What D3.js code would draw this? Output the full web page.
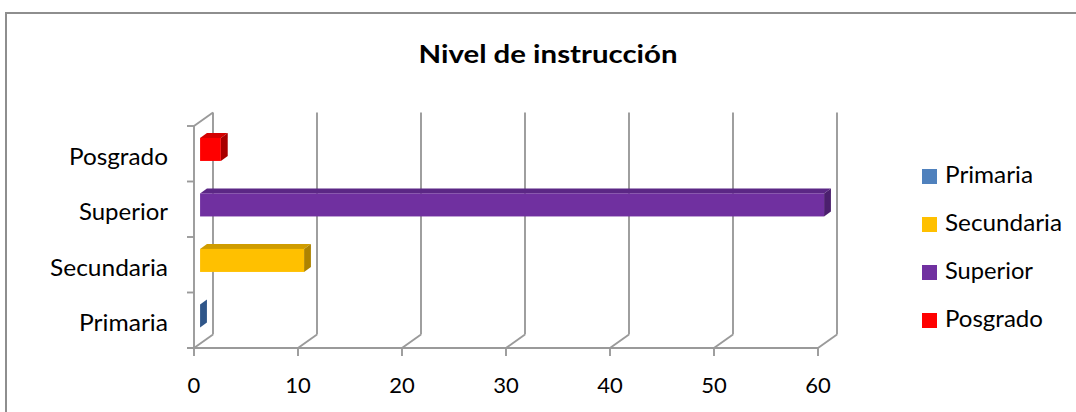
<!DOCTYPE html>
<html><head><meta charset="utf-8">
<script src="https://cdn.jsdelivr.net/npm/d3@7"></script>
<style>body{margin:0;background:#fff}svg{display:block}text{font-family:Lato,"Open Sans",sans-serif;fill:#000}</style>
</head><body>
<svg id="c" width="1076" height="412"></svg>
<script>
const title = "Nivel de instrucción";
const categories = ["Primaria","Secundaria","Superior","Posgrado"];
const values = [0, 10, 60, 2];
const xTicks = [0,10,20,30,40,50,60];
const frontColors = ["#4F81BD","#FFC000","#7030A0","#FF0000"];
const topColors = ["#3f6a9c","#cf9c00","#5b2785","#d40000"];
const sideColors = ["#2f5689","#ad8300","#4b1f6e","#a80000"];

const svg = d3.select("#c");
svg.append("rect").attr("x",6).attr("y",13).attr("width",1100).attr("height",420)
  .attr("fill","none").attr("stroke","#8e8e8e").attr("stroke-width",2);

const x = d3.scaleLinear().domain([0,60]).range([194,818]);
const y = d3.scaleBand().domain(categories).range([348,126]).padding(0);
const D = [19,-13.5];
const grid = "#9a9a9a";
const sw = 1.9;
const g = svg.append("g");

const yTop = 126, yBot = 348;
function ln(x1,y1,x2,y2){ g.append("line").attr("x1",x1).attr("y1",y1).attr("x2",x2).attr("y2",y2).attr("stroke",grid).attr("stroke-width",sw); }
// left wall
ln(x(0),yTop,x(0),yBot);
ln(x(0),yTop,x(0)+D[0],yTop+D[1]);
categories.forEach(c=>{ ln(x(0)-7,y(c)+y.bandwidth(),x(0),y(c)+y.bandwidth()); });
ln(x(0)-7,yTop,x(0),yTop);
// floor front line
ln(x(0)-7,yBot,x(60),yBot);
// gridlines + ticks
xTicks.forEach(t=>{
  ln(x(t)+D[0],yTop+D[1],x(t)+D[0],yBot+D[1]);
  ln(x(t),yBot,x(t)+D[0],yBot+D[1]);
  ln(x(t),yBot,x(t),yBot+8);
  svg.append("text").attr("x",x(t)).attr("y",393).attr("text-anchor","middle").attr("font-size",22).text(t);
});

// bars
const f0 = 0.32, f1 = 0.68;
const barH = y.bandwidth()*0.415;
categories.forEach((c,i)=>{
  const cy = y(c)+y.bandwidth()/2;
  const x0 = x(0)+D[0]*f0, x1 = x(values[i])+D[0]*f0;
  const yt = cy - barH/2 + D[1]*f0, yb = cy + barH/2 + D[1]*f0;
  const dx = D[0]*(f1-f0), dy = D[1]*(f1-f0);
  const bg = g.append("g");
  bg.append("polygon").attr("points",[[x0,yt],[x0+dx,yt+dy],[x1+dx,yt+dy],[x1,yt]].join(" ")).attr("fill",topColors[i]);
  bg.append("polygon").attr("points",[[x1,yt],[x1+dx,yt+dy],[x1+dx,yb+dy],[x1,yb]].join(" ")).attr("fill",sideColors[i]);
  if (x1-x0>0.5) bg.append("rect").attr("x",x0).attr("y",yt).attr("width",x1-x0).attr("height",yb-yt).attr("fill",frontColors[i]);
});

// category labels
const labLen = {"Posgrado":99,"Superior":89,"Secundaria":118,"Primaria":89};
categories.forEach(c=>{
  svg.append("text").attr("x",168).attr("y",y(c)+y.bandwidth()/2+11).attr("text-anchor","end")
    .attr("font-size",22.5).attr("textLength",labLen[c]).attr("lengthAdjust","spacingAndGlyphs").text(c);
});

// title
svg.append("text").attr("x",548).attr("y",63).attr("text-anchor","middle").attr("font-size",25)
  .attr("font-weight","bold").attr("textLength",259).attr("lengthAdjust","spacingAndGlyphs").text(title);

// legend
categories.forEach((c,i)=>{
  const by = 183 + i*48;
  svg.append("rect").attr("x",922).attr("y",by-14).attr("width",15).attr("height",15).attr("fill",frontColors[i]);
  svg.append("text").attr("x",945).attr("y",by).attr("font-size",22.5)
    .attr("textLength",labLen[c]-1).attr("lengthAdjust","spacingAndGlyphs").text(c);
});
</script>
</body></html>
